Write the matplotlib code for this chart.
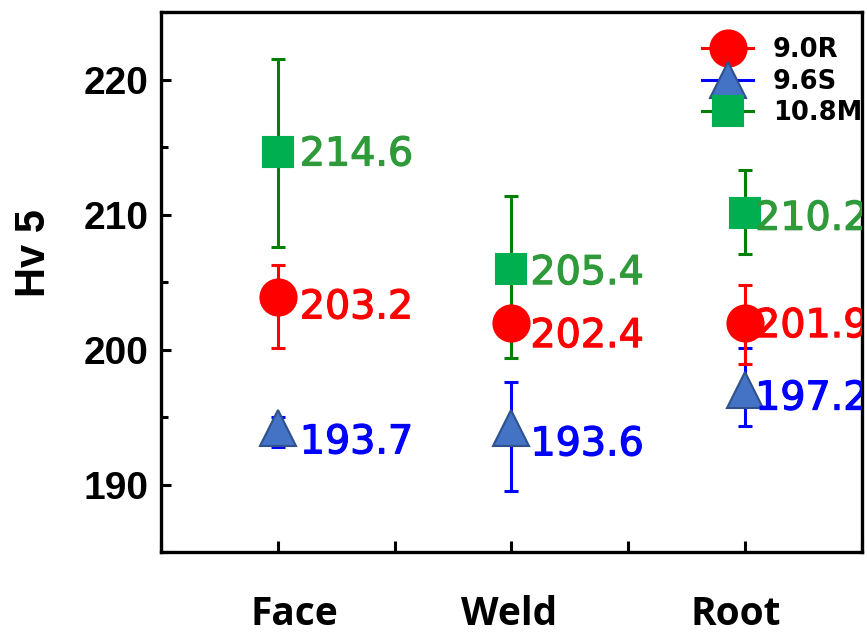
import matplotlib.pyplot as plt
import matplotlib.patheffects as pe
import matplotlib.transforms as mtransforms
from matplotlib.lines import Line2D
from matplotlib.ticker import MultipleLocator

positions = ['Face', 'Weld', 'Root']

# 9.0R
r_mean = [203.9, 202.0, 202.0]
r_lo = [200.1, 201.3, 198.9]
r_hi = [206.3, 202.7, 204.8]
r_text = [203.2, 202.4, 201.9]

# 9.6S
b_mean = [194.2, 194.2, 197.0]
b_lo = [192.8, 189.5, 194.3]
b_hi = [195.0, 197.6, 200.1]
b_text = [193.7, 193.6, 197.2]

# 10.8M
g_mean = [214.6, 206.0, 210.1]
g_lo = [207.6, 199.4, 207.1]
g_hi = [221.5, 211.4, 213.3]
g_text = [214.6, 205.4, 210.2]

x = [1, 2, 3]

fig = plt.figure(figsize=(8.67, 6.37), dpi=100)
ax = fig.add_axes([0.1857, 0.1334, 0.8085, 0.8476])

series = [
    # mean, lo, hi, text, bar colour, marker, face, edge, size, text colour, label
    (g_mean, g_lo, g_hi, g_text, '#008000', 's', '#00b050', '#00b050', 21, '#2e9a3a', '10.8M'),
    (b_mean, b_lo, b_hi, b_text, '#0000ff', '^', '#4472c4', '#2f528f', 26, '#0000ff', '9.6S'),
    (r_mean, r_lo, r_hi, r_text, '#ff0000', 'o', '#ff0000', '#ff0000', 26, '#ff0000', '9.0R'),
]

# label nudges in pixels (digit centre below marker centre)
dx = [22, 19, 10]
dy = {'10.8M': [-1.5, 1, 2], '9.6S': [11, 13, 5], '9.0R': [7, 10, 0]}
half_digit = 14.5

handles = {}
for mean, lo, hi, txt, bc, mk, fc, ec, ms, tc, lab in series:
    err = [[m - l for m, l in zip(mean, lo)], [h - m for m, h in zip(mean, hi)]]
    ax.errorbar(x, mean, yerr=err, fmt='none', ecolor=bc, elinewidth=2.2,
                capsize=5, capthick=2.2, zorder=2)
    ax.plot(x, mean, ls='none', marker=mk, ms=ms, mfc=fc, mec=ec, mew=1.5, zorder=3)
    for i in range(3):
        ax.annotate(f'{txt[i]:.1f}', xy=(x[i], mean[i]),
                    xytext=(dx[i], -(dy[lab][i] + half_digit)),
                    textcoords='offset pixels', va='baseline', ha='left',
                    fontsize=28.5, color=tc, family='DejaVu Sans', zorder=5,
                    annotation_clip=False, clip_on=True,
                    path_effects=[pe.withStroke(linewidth=0.9, foreground=tc)])
    handles[lab] = Line2D([], [], color=bc, lw=2.2, marker=mk, ms=ms,
                          mfc=fc, mec=ec, mew=1.5)

order = ['9.0R', '9.6S', '10.8M']
leg = ax.legend([handles[k] for k in order], order, loc='upper right',
                bbox_to_anchor=(1.0, 0.953), frameon=False, handlelength=2.0,
                labelspacing=0.2, handletextpad=0.75, borderaxespad=0, borderpad=0,
                prop={'family': 'DejaVu Sans', 'weight': 'bold', 'size': 18.5})

ax.set_xlim(0.5, 3.5)
ax.set_ylim(185, 225)
ax.set_xticks(x)
ax.set_xticklabels(positions, fontsize=28, fontweight='bold', family='Open Sans')
ax.xaxis.set_minor_locator(MultipleLocator(0.5))
ax.set_yticks([190, 200, 210, 220])
ax.yaxis.set_minor_locator(MultipleLocator(5))
for t in ax.get_yticklabels():
    t.set_fontsize(28)
    t.set_fontweight('bold')
    t.set_family('Liberation Sans')

ax.tick_params(axis='x', which='both', direction='in', length=8, width=2.2, pad=31)
ax.tick_params(axis='y', which='major', direction='in', length=7, width=2.2, pad=9)
ax.tick_params(axis='y', which='minor', direction='in', length=5, width=2.2)
ax.tick_params(top=False, right=False, which='both')

# category labels sit a little off their ticks in the original
shifts = [17, -2, -9]
for t, s in zip(ax.get_xticklabels(), shifts):
    t.set_transform(t.get_transform() + mtransforms.ScaledTranslation(s / 100, 0, fig.dpi_scale_trans))

for s in ax.spines.values():
    s.set_linewidth(2.4)

ax.set_ylabel('Hv 5', fontsize=30, fontweight='bold', family='Liberation Sans')
ax.yaxis.set_label_coords(-0.152, 0.554)

fig.savefig('out.png', dpi=100)
